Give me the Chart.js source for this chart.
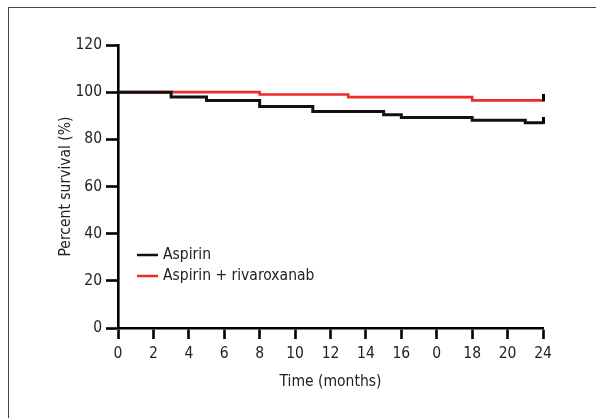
<!DOCTYPE html>
<html>
<head>
<meta charset="utf-8">
<script src="https://cdn.jsdelivr.net/npm/chart.js@4/dist/chart.umd.min.js"></script>
<style>
  html, body { margin: 0; padding: 0; background: #fff; }
  #wrap { position: relative; width: 596px; height: 418px; overflow: hidden; }
  #frame { position: absolute; left: 8px; top: 7px; width: 640px; height: 460px;
           border-left: 1.5px solid #444; border-top: 1.5px solid #444; }
  canvas { position: absolute; left: 0; top: 0; }
</style>
</head>
<body>
<div id="wrap">
  <div id="frame"></div>
  <canvas id="c" width="596" height="418"></canvas>
</div>
<script>
// ---- data ----
const seriesNames = ['Aspirin', 'Aspirin + rivaroxanab'];
const aspirinTimes = [0, 3, 5, 8, 11, 15, 16, 20, 23, 24];
const aspirinSurvival = [100, 97.9, 96.5, 93.9, 91.8, 90.4, 89.3, 88.1, 87.0, 87.0];
const comboTimes = [0, 8, 13, 20, 24];
const comboSurvival = [100, 99.0, 97.9, 96.5, 96.5];
const xTickLabels = ['0', '2', '4', '6', '8', '10', '12', '14', '16', '0', '18', '20', '24'];
const yTickValues = [0, 20, 40, 60, 80, 100, 120];

const FONT = "'Liberation Sans Narrow', 'DejaVu Sans Condensed', sans-serif";
const FS = 15.5;

function toPoints(xs, ys) { return xs.map((x, i) => ({ x: x, y: ys[i] })); }

// censor mark: short vertical tick rising from the line end
function censorMark() {
  const c = document.createElement('canvas');
  c.width = 3; c.height = 12;
  const g = c.getContext('2d');
  g.fillStyle = '#000';
  g.fillRect(0, 0, 3, 7);
  return c;
}
const mark = censorMark();

const legendPlugin = {
  id: 'innerLegend',
  afterDraw(chart) {
    const ctx = chart.ctx;
    const ds = chart.data.datasets;
    ctx.save();
    ctx.font = FS + 'px ' + FONT;
    ctx.textBaseline = 'middle';
    ctx.textAlign = 'left';
    ds.forEach((d, i) => {
      const y = 255 + i * 21;
      ctx.strokeStyle = d.borderColor;
      ctx.lineWidth = 2.5;
      ctx.beginPath();
      ctx.moveTo(137, y);
      ctx.lineTo(158, y);
      ctx.stroke();
      ctx.fillStyle = '#222';
      ctx.fillText(d.label, 163, y);
    });
    ctx.restore();
  }
};

function lastOnly(n, v) { return (ctx) => ctx.dataIndex === n - 1 ? v : 0; }

new Chart(document.getElementById('c'), {
  type: 'line',
  data: {
    datasets: [
      {
        label: seriesNames[0],
        data: toPoints(aspirinTimes, aspirinSurvival),
        borderColor: '#111',
        backgroundColor: '#111',
        borderWidth: 3,
        stepped: true,
        fill: false,
        order: 0,
        pointRadius: lastOnly(aspirinTimes.length, 3),
        pointStyle: mark,
        clip: false
      },
      {
        label: seriesNames[1],
        data: toPoints(comboTimes, comboSurvival),
        borderColor: '#ee2a2a',
        backgroundColor: '#ee2a2a',
        borderWidth: 2.6,
        stepped: true,
        fill: false,
        order: 1,
        pointRadius: lastOnly(comboTimes.length, 3),
        pointStyle: mark,
        clip: false
      }
    ]
  },
  options: {
    responsive: false,
    animation: false,
    events: [],
    layout: { padding: { left: 53, top: 45, right: 53, bottom: 23 } },
    plugins: { legend: { display: false }, tooltip: { enabled: false } },
    scales: {
      x: {
        type: 'linear',
        min: 0, max: 24,
        afterFit(s) { s.height = 67; },
        afterBuildTicks(s) { s.ticks = xTickLabels.map((_, i) => ({ value: i * 2 })); },
        ticks: {
          callback: (v) => xTickLabels[Math.round(v / 2)],
          color: '#222',
          font: { family: FONT, size: FS },
          padding: 6,
          maxRotation: 0,
          autoSkip: false
        },
        grid: { drawOnChartArea: false, drawTicks: true, tickLength: 11, tickWidth: 2.6, tickColor: '#000' },
        border: { color: '#000', width: 2.6 },
        title: { display: true, text: 'Time (months)', color: '#222', font: { family: FONT, size: FS }, padding: { top: 4, bottom: 4 } }
      },
      y: {
        min: 0, max: 120,
        afterFit(s) { s.width = 65; },
        afterBuildTicks(s) { s.ticks = yTickValues.map(v => ({ value: v })); },
        ticks: {
          color: '#222',
          font: { family: FONT, size: FS },
          padding: 4
        },
        grid: { drawOnChartArea: false, drawTicks: true, tickLength: 12, tickWidth: 2.6, tickColor: '#000' },
        border: { color: '#000', width: 2.6 },
        title: { display: true, text: 'Percent survival (%)', color: '#222', font: { family: FONT, size: FS }, padding: { top: 4, bottom: 4 } }
      }
    }
  },
  plugins: [legendPlugin]
});
</script>
</body>
</html>
